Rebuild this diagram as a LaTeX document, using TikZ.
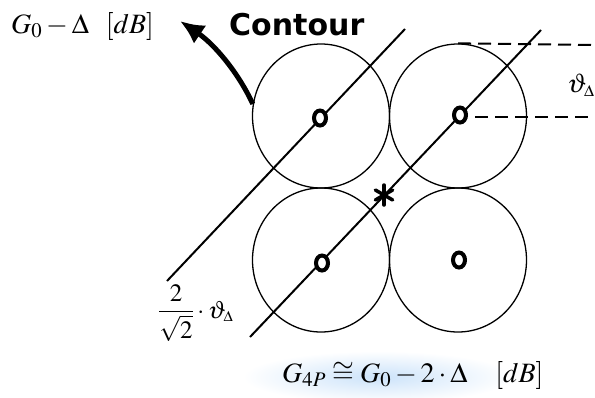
\documentclass[tikz,border=0pt]{standalone}
\usepackage{mathptmx}
\usepackage[no-math]{fontspec}
\newfontfamily\contourfont{DejaVu Sans}
\usetikzlibrary{shapes.geometric,arrows.meta}
\tikzset{
  beam/.style={draw, ellipse, line width=1.3bp, minimum width=137bp, minimum height=144bp, inner sep=0pt},
  ring/.style={draw, fill=white, ellipse, line width=4bp, minimum width=12bp, minimum height=15bp, inner sep=0pt},
  diag/.style={line width=2bp},
  level/.style={line width=2bp, dash pattern=on 13bp off 7bp},
  lab/.style={inner sep=0pt, anchor=base west},
  spoke/.style={line width=3.5bp, line cap=round},
}
\definecolor{glow}{rgb}{0.80,0.89,0.98}

\begin{document}
\begin{tikzpicture}[x=1bp,y=-1bp]
\useasboundingbox (0,0) rectangle (595,397);

% highlight under the gain formula
\shade[inner color=glow, outer color=white] (378,377) ellipse [x radius=135, y radius=26];

% beams
\node[beam] (c11) at (321,116) {};
\node[beam] (c12) at (458,116) {};
\node[beam] (c21) at (321,260) {};
\node[beam] (c22) at (458,260) {};

% diagonals
\coordinate (a1) at (167,281);
\coordinate (a2) at (405,29);
\coordinate (b1) at (250,337);
\coordinate (b2) at (541,30);
\draw[diag] (a1) -- (a2);
\draw[diag] (b1) -- (b2);

% beam centres
\node[ring] (r11) at (320,118) {};
\node[ring] (r12) at (460,115) {};
\node[ring] (r21) at (322,263) {};
\node[ring] (r22) at (459,260) {};

% crossover point
\coordinate (star) at (384,195);
\foreach \a in {90,30,150}
  \draw[spoke] (star) ++(\a:10) -- ++(\a+180:20);

% beamwidth marks
\coordinate (t2) at (595,45);
\coordinate (m1) at (475,117);
\coordinate (m2) at (595,117);
\draw[level] (c12.north) -- (t2);
\draw[level] (m1) -- (m2);

% labels
\node[lab, font=\fontsize{28bp}{30bp}\selectfont] (edge) at (11,33) {$G_0-\Delta\ \ [dB]$};
\node[lab, font=\fontsize{30bp}{32bp}\contourfont\bfseries] (contour) at (229,35) {Contour};
\node[lab, font=\fontsize{27bp}{29bp}\selectfont] (width) at (567,92) {$\vartheta_{\scriptscriptstyle\Delta}$};
\node[lab, font=\fontsize{25bp}{27bp}\selectfont] (spacing) at (158,318) {$\displaystyle\frac{2}{\sqrt{2}}\cdot\vartheta_{\scriptscriptstyle\Delta}$};
\node[lab, font=\fontsize{28bp}{30bp}\selectfont] (gain) at (282,382) {$G_{4P}\cong G_0-2\cdot\Delta\quad[dB]$};

% contour arrow
\coordinate (tip) at (180,21);
\draw[line width=5bp, -{Latex[length=24bp,width=22bp]}] (c11.170) .. controls (238,72) and (214,44) .. (tip);
\end{tikzpicture}
\end{document}
